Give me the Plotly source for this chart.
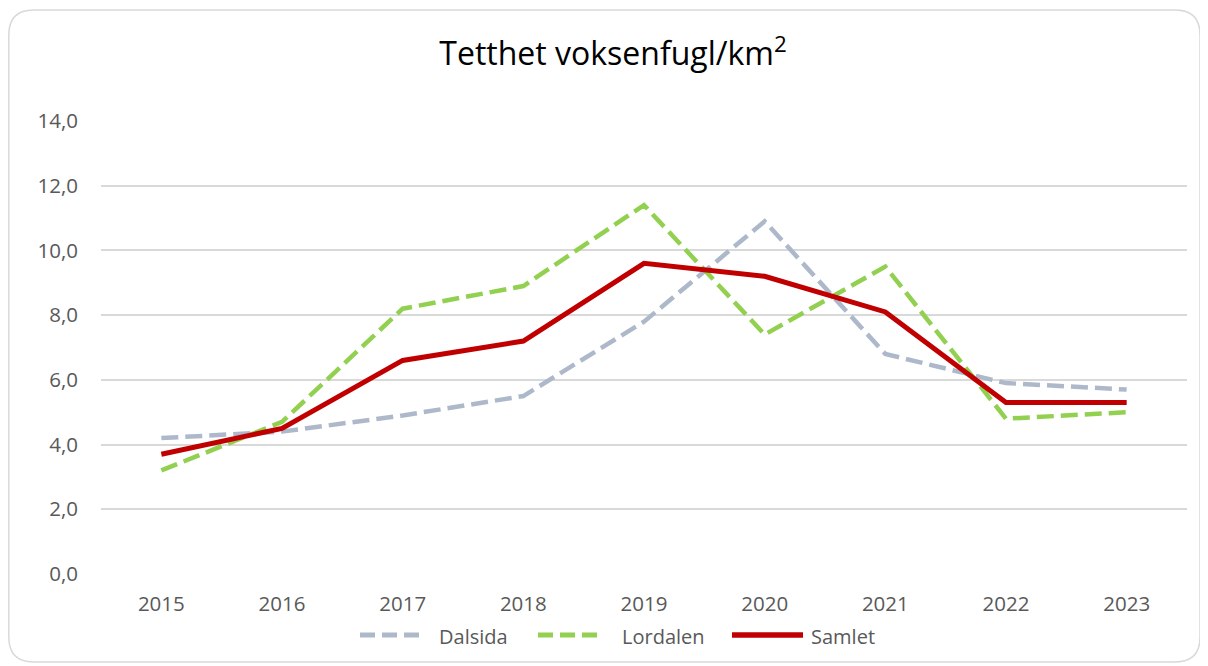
import plotly.graph_objects as go

years = ["2015", "2016", "2017", "2018", "2019", "2020", "2021", "2022", "2023"]
dalsida = [4.2, 4.4, 4.9, 5.5, 7.8, 10.9, 6.8, 5.9, 5.7]
lordalen = [3.2, 4.7, 8.2, 8.9, 11.4, 7.4, 9.5, 4.8, 5.0]
samlet = [3.7, 4.5, 6.6, 7.2, 9.6, 9.2, 8.1, 5.3, 5.3]
y_ticks = [0, 2, 4, 6, 8, 10, 12, 14]
y_tick_labels = ["0,0", "2,0", "4,0", "6,0", "8,0", "10,0", "12,0", "14,0"]

names = ["Dalsida", "Lordalen", "Samlet"]
colors = ["#ADB9CA", "#92D050", "#C00000"]
dashes = ["17px,7px", "17px,7px", "solid"]
widths = [4.5, 4.5, 5]
series = [dalsida, lordalen, samlet]

OFF = 8  # page body margin
W, H = 1200, 658
ML, MR, MT, MB = 93, 21, 113, 92
PW, PH = W - ML - MR, H - MT - MB
FONT = "Open Sans, Noto Sans, sans-serif"

def px(x):  # page x -> paper x
    return (x - OFF - ML) / PW

def py(y):  # page y -> paper y
    return (H - MB - (y - OFF)) / PH

fig = go.Figure()
for n, s, c, d, w in zip(names, series, colors, dashes, widths):
    fig.add_trace(go.Scatter(x=years, y=s, name=n, mode="lines",
                             line=dict(color=c, width=w, dash=d), showlegend=False))

# rounded outer frame
x0, x1, y0, y1, r = 8.8, 1200, 10, 662, 25
path = (f"M {px(x0+r)},{py(y0)} L {px(x1-r)},{py(y0)} "
        f"Q {px(x1)},{py(y0)} {px(x1)},{py(y0+r)} "
        f"L {px(x1)},{py(y1-r)} Q {px(x1)},{py(y1)} {px(x1-r)},{py(y1)} "
        f"L {px(x0+r)},{py(y1)} Q {px(x0)},{py(y1)} {px(x0)},{py(y1-r)} "
        f"L {px(x0)},{py(y0+r)} Q {px(x0)},{py(y0)} {px(x0+r)},{py(y0)} Z")
fig.add_shape(type="path", path=path, xref="paper", yref="paper",
              line=dict(color="#D9D9D9", width=1.5), layer="below")

# custom legend (long line samples like the reference)
leg_lines = [(360, 425), (538, 603), (732, 803)]
leg_text_x = [437, 620, 809]
leg_y = 635
for (a, b), tx, n, c, d, w in zip(leg_lines, leg_text_x, names, colors, dashes, widths):
    fig.add_shape(type="line", xref="paper", yref="paper",
                  x0=px(a), x1=px(b), y0=py(leg_y), y1=py(leg_y),
                  line=dict(color=c, width=w + 0.5, dash="15px,7px" if d != "solid" else "solid"))
    fig.add_annotation(text=n, xref="paper", yref="paper", x=px(tx), y=py(leg_y + 1),
                       xanchor="left", yanchor="middle", showarrow=False,
                       font=dict(size=20, color="#595959", family=FONT))

fig.update_layout(
    width=W, height=H,
    margin=dict(l=ML, r=MR, t=MT, b=MB),
    paper_bgcolor="white", plot_bgcolor="white",
    font=dict(family=FONT, color="#595959", size=20),
    title=dict(text="Tetthet voksenfugl/km<sup>2</sup>", x=605 / W, xanchor="center",
               y=1 - 46 / H, yanchor="middle",
               font=dict(size=32, color="#000000", family=FONT)),
    xaxis=dict(type="category", range=[-0.5, 8.5], showgrid=False, showline=False,
               zeroline=False, ticks="", ticklabelstandoff=15,
               tickfont=dict(size=20.5, color="#595959")),
    yaxis=dict(range=[0, 14], tickvals=y_ticks, ticktext=y_tick_labels,
               showgrid=True, gridcolor="#D9D9D9", gridwidth=1.5,
               zeroline=False, showline=False, ticks="", ticklabelstandoff=22,
               tickfont=dict(size=20.5, color="#595959")),
    showlegend=False,
)

fig.write_html("out.html")
